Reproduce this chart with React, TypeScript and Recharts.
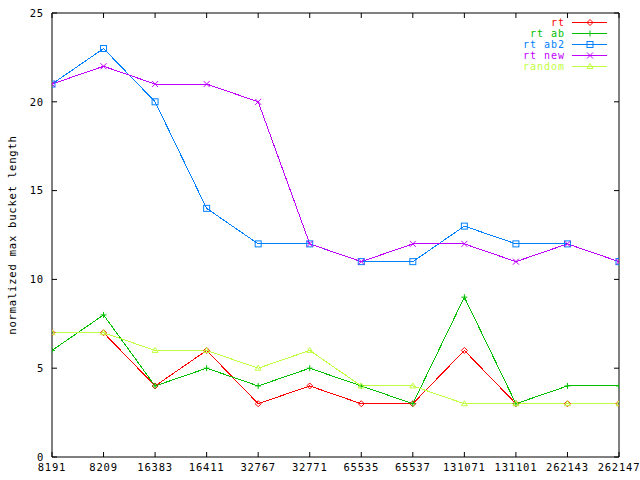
import React from 'react'
import { LineChart, Line, XAxis, YAxis } from 'recharts'

const categories = ['8191', '8209', '16383', '16411', '32767', '32771', '65535', '65537', '131071', '131101', '262143', '262147']
const rt = [7, 7, 4, 6, 3, 4, 3, 3, 6, 3, 3, 3]
const rtAb = [6, 8, 4, 5, 4, 5, 4, 3, 9, 3, 4, 4]
const rtAb2 = [21, 23, 20, 14, 12, 12, 11, 11, 13, 12, 12, 11]
const rtNew = [21, 22, 21, 21, 20, 12, 11, 12, 12, 11, 12, 11]
const random = [7, 7, 6, 6, 5, 6, 4, 4, 3, 3, 3, 3]
const yTicks = [0, 5, 10, 15, 20, 25]

const series = [
  { key: 'rt', name: 'rt', color: '#ff0000', shape: 'diamond', values: rt },
  { key: 'rtAb', name: 'rt ab', color: '#00c000', shape: 'plus', values: rtAb },
  { key: 'rtAb2', name: 'rt ab2', color: '#0080ff', shape: 'square', values: rtAb2 },
  { key: 'rtNew', name: 'rt new', color: '#c000ff', shape: 'cross', values: rtNew },
  { key: 'random', name: 'random', color: '#c0ff40', shape: 'triangle', values: random },
]

const data = categories.map((c, i) => {
  const row: Record<string, number | string> = { i, label: c }
  series.forEach(s => { row[s.key] = s.values[i] })
  return row
})

const font = "'DejaVu Sans Mono', monospace"

function Marker({ cx, cy, shape, color }: { cx: number, cy: number, shape: string, color: string }) {
  const r = 3
  if (shape === 'diamond')
    return <polygon points={`${cx},${cy - r} ${cx + r},${cy} ${cx},${cy + r} ${cx - r},${cy}`} fill="none" stroke={color} />
  if (shape === 'plus')
    return <g stroke={color}><line x1={cx - r} y1={cy} x2={cx + r} y2={cy} /><line x1={cx} y1={cy - r} x2={cx} y2={cy + r} /></g>
  if (shape === 'square')
    return <rect x={cx - r} y={cy - r} width={2 * r} height={2 * r} fill="none" stroke={color} />
  if (shape === 'cross')
    return <g stroke={color}><line x1={cx - r} y1={cy - r} x2={cx + r} y2={cy + r} /><line x1={cx - r} y1={cy + r} x2={cx + r} y2={cy - r} /></g>
  return <polygon points={`${cx},${cy - r} ${cx + r},${cy + r - 1} ${cx - r},${cy + r - 1}`} fill="none" stroke={color} />
}

function makeDot(shape: string, color: string) {
  return (p: any) => (
    <g key={p.key ?? `${shape}-${p.index}`}>
      {p.cx != null && p.cy != null ? <Marker cx={p.cx} cy={p.cy} shape={shape} color={color} /> : null}
    </g>
  )
}

function ChartLegend() {
  return (
    <div style={{ position: 'absolute', top: 17, left: 460, width: 148, fontFamily: font, fontSize: 10, letterSpacing: 1 }}>
      {series.map(s => (
        <div key={s.key} style={{ display: 'flex', alignItems: 'center', height: 11, justifyContent: 'flex-end' }}>
          <span style={{ color: s.color, lineHeight: '11px' }}>{s.name}</span>
          <svg width={36} height={11} style={{ marginLeft: 7 }}>
            <line x1={0} y1={5.5} x2={35} y2={5.5} stroke={s.color} shapeRendering="crispEdges" />
            <Marker cx={18} cy={5.5} shape={s.shape} color={s.color} />
          </svg>
        </div>
      ))}
    </div>
  )
}

const tickStyle = { fontSize: 10.5, fill: '#000', fontFamily: font, letterSpacing: 0.8 }
const noTick = () => <g />

export default function App() {
  return (
    <div style={{ position: 'absolute', left: 0, top: 0, width: 640, height: 480, background: '#fff' }}>
      <LineChart width={640} height={480} data={data} margin={{ top: 12, right: 20, bottom: 0, left: 0 }}>
        <XAxis
          dataKey="i" type="number" domain={[0, 11]} ticks={categories.map((_, i) => i)}
          tickFormatter={v => categories[v]} height={23} tickSize={-5} tickMargin={12}
          stroke="#000" tick={tickStyle} interval={0} allowDataOverflow
        />
        <XAxis
          xAxisId="top" orientation="top" dataKey="i" type="number" domain={[0, 11]}
          ticks={categories.map((_, i) => i)} height={1} tickSize={-5} tick={noTick}
          stroke="#000" interval={0} allowDataOverflow
        />
        <YAxis
          domain={[0, 25]} ticks={yTicks} width={52} tickSize={-5} tickMargin={13}
          stroke="#000" tick={tickStyle} interval={0} allowDataOverflow
          label={{
            content: () => (
              <text x={12} y={235} transform="rotate(-90 12 235)" textAnchor="middle"
                dominantBaseline="central" style={{ ...tickStyle }}>
                normalized max bucket length
              </text>
            ),
          }}
        />
        <YAxis
          yAxisId="right" orientation="right" domain={[0, 25]} ticks={yTicks} width={1}
          tickSize={-5} tick={noTick} stroke="#000" interval={0} allowDataOverflow
        />
        {series.map(s => (
          <Line
            key={s.key} dataKey={s.key} name={s.name} stroke={s.color} strokeWidth={1}
            type="linear" dot={makeDot(s.shape, s.color)} activeDot={false}
            shapeRendering="crispEdges" isAnimationActive={false}
          />
        ))}
      </LineChart>
      <ChartLegend />
    </div>
  )
}
